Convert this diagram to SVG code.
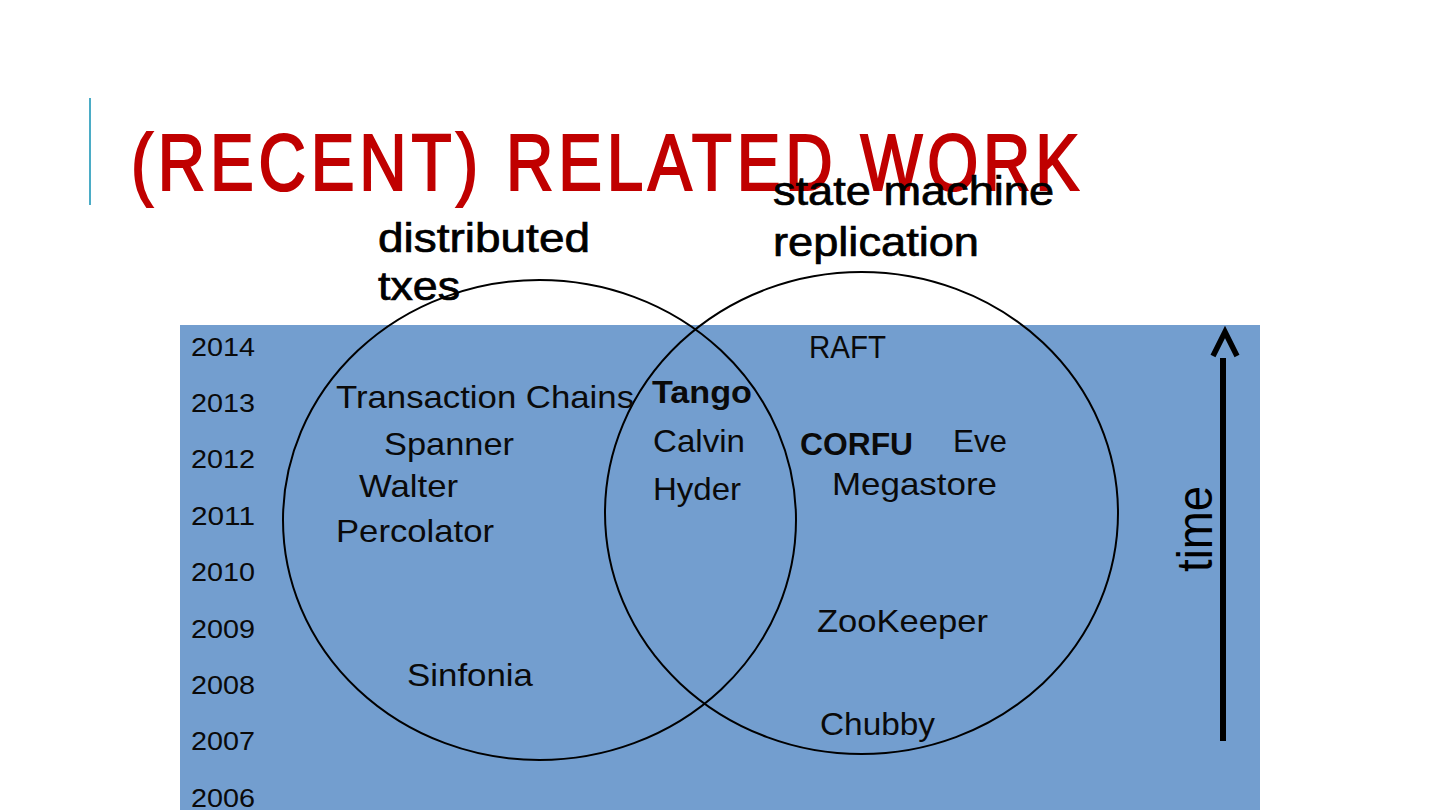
<svg xmlns="http://www.w3.org/2000/svg" width="1440" height="810" viewBox="0 0 1440 810">
  <style>
    .lbl { font-family: "Liberation Sans", Arial, sans-serif; fill: #000; stroke: #000; stroke-width: 0.7; }
    .item { font-family: "Liberation Sans", Arial, sans-serif; font-size: 32px; fill: #0a0a0a; }
    .bold { font-weight: bold; }
    .year { font-family: "Liberation Sans", Arial, sans-serif; font-size: 25px; fill: #0a0a0a; }
    .set { fill: none; stroke: #000; stroke-width: 2; }
    .big { font-size: 40px; }
  </style>
  <rect x="0" y="0" width="1440" height="810" fill="#ffffff"/>
  <line x1="90" y1="98" x2="90" y2="205" stroke="#4BACC6" stroke-width="2"/>

  <g id="background">
    <rect x="180" y="325" width="1080" height="485" fill="#739ECF"/>
  </g>

  <g id="title" transform="scale(0.82,1)">
    <text x="159.8" y="190" font-family="'Liberation Sans', Arial, sans-serif" font-size="80" fill="#C00000" stroke="#C00000" stroke-width="2.2" textLength="1156" lengthAdjust="spacing">(RECENT) RELATED WORK</text>
  </g>

  <g id="years">
    <text class="year" x="191" y="356" textLength="64" lengthAdjust="spacingAndGlyphs">2014</text>
    <text class="year" x="191" y="412" textLength="64" lengthAdjust="spacingAndGlyphs">2013</text>
    <text class="year" x="191" y="468" textLength="64" lengthAdjust="spacingAndGlyphs">2012</text>
    <text class="year" x="191" y="525" textLength="64" lengthAdjust="spacingAndGlyphs">2011</text>
    <text class="year" x="191" y="581" textLength="64" lengthAdjust="spacingAndGlyphs">2010</text>
    <text class="year" x="191" y="638" textLength="64" lengthAdjust="spacingAndGlyphs">2009</text>
    <text class="year" x="191" y="694" textLength="64" lengthAdjust="spacingAndGlyphs">2008</text>
    <text class="year" x="191" y="750" textLength="64" lengthAdjust="spacingAndGlyphs">2007</text>
    <text class="year" x="191" y="807" textLength="64" lengthAdjust="spacingAndGlyphs">2006</text>
  </g>

  <g id="set-distributed-txes">
    <ellipse class="set" cx="539.5" cy="520" rx="256.5" ry="240"/>
    <text class="lbl big" x="378" y="252" textLength="212" lengthAdjust="spacingAndGlyphs">distributed</text>
    <text class="lbl big" x="378" y="300" textLength="82" lengthAdjust="spacingAndGlyphs">txes</text>
  </g>

  <g id="set-smr">
    <ellipse class="set" cx="861.5" cy="513" rx="256.5" ry="241"/>
    <text class="lbl big" x="773" y="205" textLength="281" lengthAdjust="spacingAndGlyphs">state machine</text>
    <text class="lbl big" x="773" y="256" textLength="206" lengthAdjust="spacingAndGlyphs">replication</text>
  </g>

  <g id="node-transaction-chains"><text class="item" x="336" y="408" textLength="298" lengthAdjust="spacingAndGlyphs">Transaction Chains</text></g>
  <g id="node-spanner"><text class="item" x="384" y="455" textLength="130" lengthAdjust="spacingAndGlyphs">Spanner</text></g>
  <g id="node-walter"><text class="item" x="359" y="497" textLength="99" lengthAdjust="spacingAndGlyphs">Walter</text></g>
  <g id="node-percolator"><text class="item" x="336" y="542" textLength="158" lengthAdjust="spacingAndGlyphs">Percolator</text></g>
  <g id="node-sinfonia"><text class="item" x="407" y="686" textLength="126" lengthAdjust="spacingAndGlyphs">Sinfonia</text></g>

  <g id="node-tango"><text class="item bold" x="652" y="403" textLength="100" lengthAdjust="spacingAndGlyphs">Tango</text></g>
  <g id="node-calvin"><text class="item" x="653" y="452" textLength="92" lengthAdjust="spacingAndGlyphs">Calvin</text></g>
  <g id="node-hyder"><text class="item" x="653" y="500" textLength="88" lengthAdjust="spacingAndGlyphs">Hyder</text></g>

  <g id="node-raft"><text class="item" x="809" y="358" textLength="77" lengthAdjust="spacingAndGlyphs">RAFT</text></g>
  <g id="node-corfu"><text class="item bold" x="800" y="455" textLength="113" lengthAdjust="spacingAndGlyphs">CORFU</text></g>
  <g id="node-eve"><text class="item" x="953" y="452" textLength="54" lengthAdjust="spacingAndGlyphs">Eve</text></g>
  <g id="node-megastore"><text class="item" x="832" y="495" textLength="165" lengthAdjust="spacingAndGlyphs">Megastore</text></g>
  <g id="node-zookeeper"><text class="item" x="817" y="632" textLength="171" lengthAdjust="spacingAndGlyphs">ZooKeeper</text></g>
  <g id="node-chubby"><text class="item" x="820" y="735" textLength="115" lengthAdjust="spacingAndGlyphs">Chubby</text></g>

  <g id="connectors">
    <line x1="1223" y1="741" x2="1223" y2="358" stroke="#000" stroke-width="6"/>
    <polyline points="1213,356 1225,332 1237,356" fill="none" stroke="#000" stroke-width="5.5"/>
  </g>
  <g id="time-label">
    <text font-family="'Liberation Sans', Arial, sans-serif" fill="#000" transform="translate(1212,572) rotate(-90)" x="0" y="0" font-size="50" textLength="86" lengthAdjust="spacingAndGlyphs">time</text>
  </g>
</svg>
